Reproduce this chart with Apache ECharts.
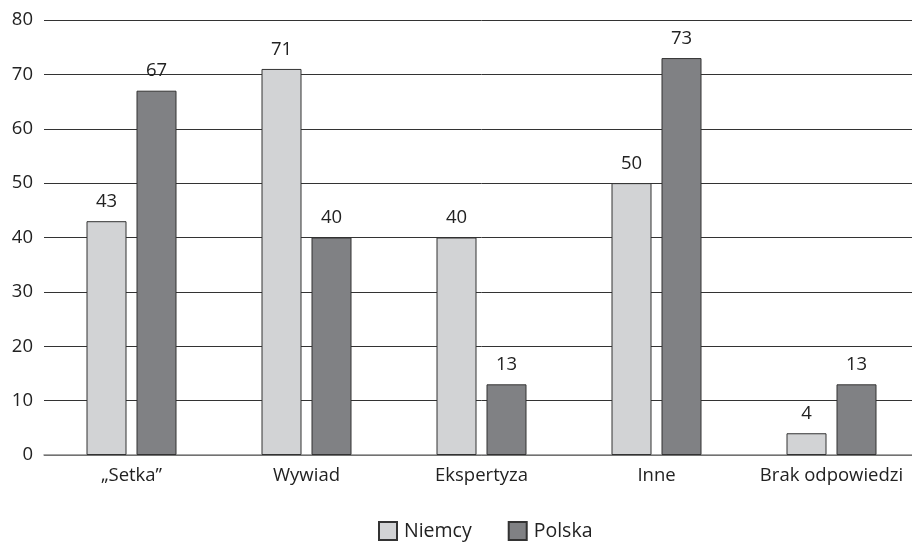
<!DOCTYPE html>
<html>
<head>
<meta charset="utf-8">
<script src="https://cdn.jsdelivr.net/npm/echarts@6/dist/echarts.min.js"></script>
<style>
  html, body { margin: 0; padding: 0; background: #fff; overflow: hidden; }
  #chart { width: 919px; height: 542px; }
</style>
</head>
<body>
<div id="chart"></div>
<script>
// Categories and values per country
const categories = ['„Setka”', 'Wywiad', 'Ekspertyza', 'Inne', 'Brak odpowiedzi'];
const niemcy = [43, 71, 40, 50, 4];
const polska = [67, 40, 13, 73, 13];
const yTicks = { min: 0, max: 80, interval: 10 };

const FONT = '"Open Sans", "Noto Sans", sans-serif';
const FS = 18.5;

// canvas runs a few px past the right window edge so the last category keeps full width
const chart = echarts.init(document.getElementById('chart'), null, { renderer: 'canvas' });

const labelStyle = {
  show: true,
  position: 'top',
  distance: 10,
  color: '#222',
  fontSize: FS,
  fontFamily: FONT
};

chart.setOption({
  animation: false,
  backgroundColor: '#fff',
  grid: { left: 44, right: 0, top: 20, height: 435, containLabel: false },
  legend: {
    top: 516,
    left: 373,
    itemWidth: 18,
    itemHeight: 18,
    itemGap: 36,
    icon: 'rect',
    textStyle: { color: '#222', fontSize: 19.5, fontFamily: FONT, padding: [0, 0, 0, 2] },
    data: ['Niemcy', 'Polska']
  },
  xAxis: {
    type: 'category',
    data: categories,
    axisLine: { show: true, lineStyle: { color: '#888', width: 1.5 } },
    axisTick: { show: false },
    axisLabel: { color: '#222', fontSize: FS, fontFamily: FONT, margin: 11, interval: 0 }
  },
  yAxis: {
    type: 'value',
    min: yTicks.min,
    max: yTicks.max,
    interval: yTicks.interval,
    axisLine: { show: false },
    axisTick: { show: false },
    axisLabel: { color: '#222', fontSize: FS, fontFamily: FONT, margin: 11 },
    splitLine: { show: true, lineStyle: { color: '#333', width: 1 } }
  },
  series: [
    {
      name: 'Niemcy',
      type: 'bar',
      data: niemcy,
      barWidth: 40,
      barGap: '25%',
      itemStyle: { color: '#d2d3d5', borderColor: '#333', borderWidth: 1 },
      label: labelStyle
    },
    {
      name: 'Polska',
      type: 'bar',
      data: polska,
      barWidth: 40,
      barGap: '25%',
      itemStyle: { color: '#808184', borderColor: '#333', borderWidth: 1 },
      label: labelStyle
    }
  ]
});
</script>
</body>
</html>
